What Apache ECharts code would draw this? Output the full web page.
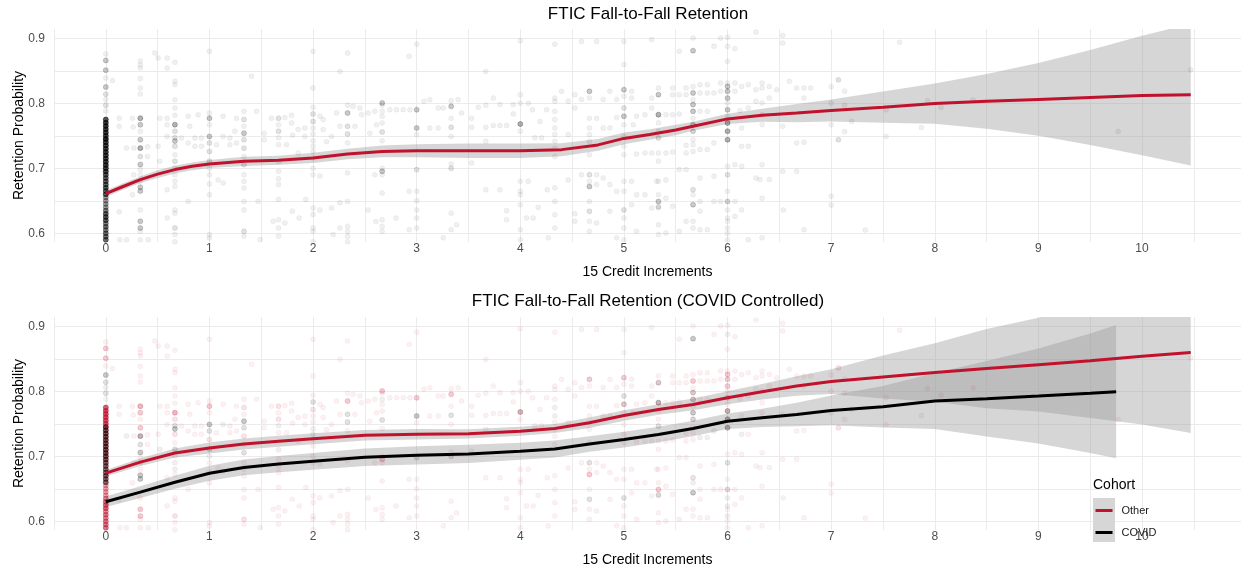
<!DOCTYPE html>
<html><head><meta charset="utf-8">
<script src="https://cdn.jsdelivr.net/npm/echarts@6/dist/echarts.min.js"></script>
<style>html,body{margin:0;padding:0;background:#fff}#c{width:1241px;height:569px}</style>
</head><body><div id="c"></div>
<script>
const FONT = '"Liberation Sans", Arial, Helvetica, sans-serif';
const RED = '#C0122D';
const BAND = 'rgba(153,153,153,0.4)';

const titleTop = 'FTIC Fall-to-Fall Retention';
const titleBottom = 'FTIC Fall-to-Fall Retention (COVID Controlled)';
const xAxisTitle = '15 Credit Increments';
const yAxisTitle = 'Retention Probability';
const xTickLabels = [0, 1, 2, 3, 4, 5, 6, 7, 8, 9, 10];
const yTickLabels = [0.6, 0.7, 0.8, 0.9];
const cohorts = ['Other', 'COVID'];

// Top panel smooth fit (all students)
const topFitX = [0,0.167,0.333,0.5,0.667,0.833,1,1.333,1.667,2,2.333,2.667,3,3.5,4,4.4,4.75,5,5.25,5.5,5.667,6,6.333,6.667,7,7.5,8,8.5,9,9.5,10,10.47];
const topFitY = [0.661,0.672,0.6825,0.691,0.698,0.703,0.7066,0.7107,0.7123,0.716,0.722,0.726,0.727,0.727,0.727,0.7287,0.736,0.746,0.752,0.759,0.7646,0.776,0.7815,0.785,0.789,0.794,0.7995,0.803,0.806,0.809,0.812,0.8133];
const topLower = [0.656,0.667,0.6775,0.685,0.692,0.697,0.7006,0.7037,0.7053,0.708,0.714,0.717,0.717,0.716,0.716,0.7187,0.727,0.737,0.744,0.751,0.7576,0.768,0.7715,0.771,0.772,0.770,0.7685,0.761,0.750,0.736,0.720,0.7043];
const topUpper = [0.666,0.677,0.6875,0.697,0.704,0.709,0.7126,0.7177,0.7193,0.724,0.730,0.735,0.737,0.738,0.738,0.7387,0.745,0.755,0.760,0.767,0.7716,0.784,0.7915,0.799,0.806,0.818,0.8305,0.845,0.862,0.882,0.904,0.9223];

// Bottom panel fits
const otherFitX = [0,0.333,0.667,1,1.333,1.667,2,2.5,3,3.5,4,4.333,4.667,5,5.333,5.667,6,6.333,6.667,7,7.5,8,8.5,9,9.5,10,10.47];
const otherFitY = [0.674,0.691,0.705,0.7128,0.719,0.7231,0.727,0.7324,0.734,0.7345,0.7386,0.7427,0.7515,0.7628,0.772,0.7798,0.790,0.7994,0.8082,0.815,0.822,0.829,0.835,0.841,0.847,0.854,0.8597];
const otherLower = [0.669,0.685,0.698,0.7043,0.7105,0.7146,0.7185,0.7244,0.726,0.7275,0.7316,0.7357,0.7435,0.7548,0.764,0.7708,0.780,0.7874,0.7932,0.796,0.789,0.784,0.774,0.769,0.759,0.749,0.7357];
const otherUpper = [0.679,0.697,0.712,0.7213,0.7275,0.7316,0.7355,0.7404,0.742,0.7415,0.7456,0.7497,0.7595,0.7708,0.780,0.7888,0.800,0.8114,0.8232,0.834,0.855,0.874,0.896,0.913,0.935,0.959,0.9837];

const covidFitX = [0,0.333,0.667,1,1.333,1.667,2,2.5,3,3.5,4,4.333,4.667,5,5.333,5.667,6,6.333,6.667,7,7.5,8,8.5,9,9.5,9.75];
const covidFitY = [0.630,0.6448,0.660,0.674,0.6829,0.688,0.6922,0.6984,0.7015,0.7036,0.7077,0.7113,0.719,0.7257,0.7335,0.7427,0.754,0.7592,0.7644,0.7706,0.7762,0.785,0.7886,0.7927,0.7969,0.7994];
const covidLower = [0.622,0.6358,0.650,0.6625,0.6709,0.6755,0.6792,0.6849,0.6875,0.6896,0.6947,0.6983,0.707,0.7137,0.7215,0.7307,0.742,0.7452,0.7464,0.7476,0.7442,0.742,0.7306,0.7197,0.7049,0.6969];
const covidUpper = [0.638,0.6538,0.670,0.6855,0.6949,0.7005,0.7052,0.7119,0.7155,0.7176,0.7207,0.7243,0.731,0.7377,0.7455,0.7547,0.766,0.7732,0.7824,0.7936,0.8082,0.828,0.8466,0.8657,0.8889,0.9019];

// Zero-credit column (x = 0): retention values and overlap counts
const zeroOtherY = [0.590,0.595,0.600,0.605,0.610,0.615,0.620,0.625,0.630,0.635,0.640,0.645,0.650,0.655,0.660,0.665,0.670,0.675,0.680,0.685,0.690,0.695,0.700,0.705,0.710,0.715,0.720,0.725,0.730,0.735,0.740,0.745,0.750,0.755,0.760,0.765,0.770,0.775];
const zeroOtherN = [14,12,12,10,12,10,16,16,15,10,7,7,7,7,7,6,6,6,6,6,6,11,11,11,11,11,11,11,11,11,11,18,22,22,22,22,22,18];
const zeroCovidY = [0.660,0.665,0.670,0.675,0.680,0.685,0.690,0.695,0.700,0.705,0.710,0.715,0.720,0.725,0.730,0.735,0.740,0.745];
const zeroCovidN = [8,8,9,8,8,8,9,8,9,9,9,9,9,9,9,9,9,8];

// Other points [x, y, overlapCount]
const ptsOther = [
[0,0.876],[0,0.866,4],[0,0.851,4],[0,0.839],[0,0.788],
[0.333,0.865],[0.333,0.859],[0.333,0.8543],[0.333,0.838],[0.333,0.8236],[0.333,0.8143],[0.333,0.777,6],[0.333,0.767,4],[0.333,0.757],[0.333,0.744,4],[0.333,0.7312,2],[0.333,0.698],[0.333,0.68],[0.333,0.636],[0.333,0.6184,4],[0.333,0.608,4],[0.333,0.603],[0.333,0.59],
[0.667,0.863],[0.667,0.8338],[0.667,0.8287],[0.667,0.8056],[0.667,0.7928],[0.667,0.7815],[0.667,0.7671,6],[0.667,0.757,2],[0.667,0.7338,2],[0.667,0.721],[0.667,0.7005],[0.667,0.672],[0.667,0.636],[0.667,0.631],[0.667,0.608,2],[0.667,0.598],[0.667,0.587],
[1,0.88],[1,0.785],[1,0.777,4],[1,0.767],[1,0.726,2],[1,0.69],[1,0.676],[1,0.6594],[1,0.598],[1,0.5928],
[1.333,0.7876],[1.333,0.775,2],[1.333,0.7646],[1.333,0.731,2],[1.333,0.718],[1.333,0.69],[1.333,0.68],[1.333,0.6697],[1.333,0.649],[1.333,0.636],[1.333,0.603,2],[1.333,0.5954],
[1.667,0.777,2],[1.667,0.767],[1.667,0.757,2],[1.667,0.7364],[1.667,0.6953],[1.667,0.684],[1.667,0.675],[1.667,0.652],[1.667,0.621],[1.667,0.608],[1.667,0.5954],
[2,0.88],[2,0.8235],[2,0.794],[2,0.772,2],[2,0.762],[2,0.7528],[2,0.726],[2,0.716],[2,0.7],[2,0.69],[2,0.639],[2,0.629],[2,0.608],[2,0.603],[2,0.587],
[2.333,0.8774],[2.333,0.797],[2.333,0.785,4],[2.333,0.739],[2.333,0.693],[2.333,0.649],[2.333,0.6107],[2.333,0.603],[2.333,0.5954],[2.333,0.587],
[2.667,0.8005,4],[2.667,0.797],[2.667,0.78],[2.667,0.7697],[2.667,0.7425],[2.667,0.7],[2.667,0.6953,4],[2.667,0.69],[2.667,0.662],[2.667,0.621],[2.667,0.6107],[2.667,0.603],
[3,0.891],[3,0.79,4],[3,0.752],[3,0.6646],[3,0.65],[3,0.636],[3,0.6236],[3,0.608],
[3.333,0.804],[3.333,0.7953,4],[3.333,0.777],[3.333,0.749],[3.333,0.7066],[3.333,0.631],[3.333,0.6056],
[3.667,0.849],[3.667,0.797],[3.667,0.763],[3.667,0.7415],[3.667,0.667],
[4,0.8964],[4,0.8133],[4,0.8],[4,0.768,4],[4,0.757],[4,0.68],[4,0.6646],[4,0.6594],[4,0.644],[4,0.6056],[4,0.59],
[4.333,0.891],[4.333,0.808],[4.333,0.803],[4.333,0.7876],[4.333,0.752],[4.333,0.7415],[4.333,0.731],[4.333,0.718],[4.333,0.67],[4.333,0.649],[4.333,0.6287],[4.333,0.608],
[4.667,0.8184,4],[4.667,0.808],[4.667,0.777],[4.667,0.762],[4.667,0.752],[4.667,0.7415],[4.667,0.721],[4.667,0.68],[4.667,0.672,4],[4.667,0.649],[4.667,0.6184],[4.667,0.603],
[5,0.895],[5,0.8595],[5,0.821,4],[5,0.811],[5,0.78,2],[5,0.767],[5,0.749],[5,0.7338],[5,0.721],[5,0.68],[5,0.6646],[5,0.6236],[5,0.608],[5,0.59],
[5.333,0.8236],[5.333,0.8133,2],[5.333,0.7825,2],[5.333,0.77],[5.333,0.757],[5.333,0.7236],[5.333,0.711],[5.333,0.68],[5.333,0.6594],[5.333,0.649,4],[5.333,0.639],[5.333,0.613],[5.333,0.598],
[5.667,0.9005],[5.667,0.826],[5.667,0.8159,4],[5.667,0.8056],[5.667,0.798,2],[5.667,0.7876,2],[5.667,0.777],[5.667,0.757],[5.667,0.7441],[5.667,0.7364],[5.667,0.726],[5.667,0.667],[5.667,0.6184],[5.667,0.608],
[6,0.9015],[6,0.8646],[6,0.8312],[6,0.826,4],[6,0.8184,4],[6,0.808,4],[6,0.8005],[6,0.79,4],[6,0.78],[6,0.7697,2],[6,0.757,2],[6,0.744,2],[6,0.703],[6,0.6646],[6,0.649,2],[6,0.6184],[6,0.6],[6,0.59],
[6.333,0.8312],[6.333,0.8236],[6.333,0.8005],[6.333,0.7825],[6.333,0.767],[6.333,0.7056],[6.333,0.654],[6.333,0.593],
[6.667,0.8236],[6.667,0.7389],[6.667,0.6953],
[7,0.8256],[7,0.8003],[7,0.7669],[7,0.6437],[7,0.657],
[0.064,0.835],[0.129,0.777],[0.129,0.7646],[0.129,0.633],[0.257,0.777],[0.264,0.7635],[0.27,0.69],[0.257,0.6594],[0.27,0.7312],[0.402,0.733],[0.402,0.718],[0.473,0.8774],[0.505,0.8697],[0.592,0.8697],[0.592,0.8543],[0.505,0.7338],[0.521,0.777],[0.592,0.777],[0.592,0.767],[0.592,0.749],[0.592,0.667],[0.592,0.6236],[0.73,0.7466],[0.795,0.78],[0.795,0.739],[0.795,0.649],[0.81,0.7646],[0.859,0.7466],[0.859,0.7338],[0.891,0.7825],[0.923,0.7466],[0.923,0.7338],[1.068,0.7364],[1.084,0.682],[1.132,0.78],[1.132,0.6774],[1.197,0.7466],[1.197,0.7364],[1.245,0.757],[1.261,0.777],[1.261,0.739],[1.406,0.8415],[1.454,0.7876],[1.47,0.649],[1.528,0.754],[1.528,0.744],[1.599,0.777],[1.615,0.6184],[1.49,0.5903],[0.135,0.59],[0.2,0.59],[0.41,0.59],
[1.728,0.778],[1.792,0.7815],[1.792,0.7697],[1.744,0.7364],[1.802,0.751],[1.856,0.7595],[1.921,0.762],[1.921,0.749],[1.856,0.7236],[2.066,0.78],[2.098,0.775],[2.098,0.7595],[2.066,0.688],[2.13,0.741],[2.178,0.749],[2.226,0.785],[2.259,0.7646],[2.259,0.849],[2.387,0.7953],[2.404,0.7646],[2.452,0.7928],[2.468,0.7825],[2.532,0.785],[2.548,0.754],[2.596,0.7876],[2.613,0.767],[2.741,0.7902],[2.806,0.7902],[2.87,0.7902],[2.935,0.7902],[2.928,0.8723],[3.07,0.803],[3.127,0.8056],[3.127,0.762],[3.208,0.7928],[3.256,0.7928],[3.208,0.762],[3.4,0.8056],[3.433,0.785],[1.93,0.652],[1.8,0.634],[1.866,0.6236],[1.728,0.616],[2.178,0.639],[2.259,0.647],[2.066,0.636],[2.194,0.598],[2.259,0.608],[2.532,0.636],[2.606,0.618],[2.8,0.6236],[2.928,0.6646],[2.928,0.6056],[3.256,0.593],[3.385,0.613],[2.596,0.69],
[3.594,0.794],[3.739,0.808],[3.803,0.798],[3.53,0.777],[3.53,0.763],[3.739,0.766],[3.803,0.766],[3.868,0.766],[3.932,0.798],[3.932,0.7836],[4.077,0.8],[4.118,0.79],[4.19,0.772],[4.254,0.79],[4.398,0.8184],[4.462,0.803],[4.527,0.8133],[4.527,0.7928],[4.591,0.806],[4.736,0.895],[4.591,0.895],[4.8,0.806],[4.865,0.8184],[4.93,0.806],[4.93,0.778],[5.074,0.8184],[5.074,0.808],[5.122,0.78],[5.203,0.7825],[5.268,0.808],[5.268,0.7928],[4.14,0.747],[4.205,0.747],[4.462,0.752],[4.736,0.777],[4.8,0.762],[4.865,0.762],[5.122,0.722],[5.203,0.7236],[5.268,0.7236],[5.09,0.767],[3.803,0.667],[4.077,0.68],[4.173,0.64],[4.26,0.667],[4.462,0.682],[4.527,0.63],[4.591,0.69],[4.736,0.69],[4.736,0.675],[4.8,0.685],[4.865,0.675],[4.865,0.6338],[4.93,0.6646],[5.074,0.68],[5.074,0.644],[5.122,0.6594],[5.203,0.6594],[5.268,0.639],[3.868,0.621],[3.868,0.6348],[4.06,0.6236],[4.124,0.6236],[4.27,0.593],[4.527,0.6184],[4.736,0.616],[4.93,0.593],[5.122,0.603],[3.53,0.708],
[5.267,0.898],[5.534,0.88],[5.869,0.8876],[5.933,0.9005],[6.071,0.8841],[6.274,0.9097],[6.532,0.9046],[6.532,0.8927],[5.47,0.8236],[5.47,0.8133],[5.534,0.8133],[5.6,0.8236],[5.6,0.8133],[5.734,0.8287],[5.734,0.8159],[5.805,0.8287],[5.805,0.8159],[5.869,0.8159],[5.933,0.8312],[5.933,0.8184],[6.071,0.8312],[6.071,0.8184],[6.136,0.826],[6.2,0.8287],[6.274,0.821],[6.403,0.826],[6.474,0.821],[6.596,0.8338],[6.737,0.8236],[6.802,0.8236],[6.737,0.808],[7.069,0.8364],[5.405,0.7825],[5.534,0.7836],[5.47,0.7825],[5.734,0.7876],[5.805,0.7876],[6.12,0.7887],[6.2,0.7928],[6.274,0.803],[6.403,0.808],[6.532,0.7646],[6.737,0.74],[7.069,0.744],[5.405,0.7236],[5.47,0.7251],[5.6,0.7236],[5.6,0.7354],[6.2,0.7338],[6.136,0.762],[5.315,0.68],[5.405,0.682],[5.534,0.698],[5.6,0.698],[5.734,0.685],[5.869,0.6877],[6.071,0.7056],[6.136,0.703],[6.274,0.685],[6.313,0.6826],[6.403,0.6826],[6.532,0.6953],[5.405,0.654],[5.47,0.6415],[5.734,0.649],[5.734,0.634],[5.869,0.649],[5.933,0.649],[6.071,0.649],[6.136,0.636],[6.071,0.626],[6.538,0.636],[5.534,0.603],[5.6,0.6184],[5.734,0.6056],[5.805,0.6056],[6.2,0.59],[6.737,0.6056],[5.405,0.6005],
[7.13,0.8187],[7.07,0.8358],[7.13,0.797],[7.197,0.772],[7.13,0.7566],[7.07,0.7438],[7.53,0.7489],[7.53,0.7899],[7.87,0.7628],[7.93,0.8038],[8.06,0.794],[8.37,0.805],[9.77,0.7566],[10.47,0.8514],[7.33,0.605],[7.66,0.8938]
];

// COVID points [x, y, overlapCount]
const ptsCovid = [
[0,0.797,2],[0,0.806],[0,0.814,2],[0,0.825,4],
[0.333,0.665,4],[0.333,0.671,4],[0.333,0.69],[0.333,0.706,4],[0.333,0.718,2],[0.333,0.731,4],
[0.667,0.742,4],[0.667,0.747,2],[0.667,0.711,2],[0.667,0.69],[0.667,0.68],
[1,0.739,2],[1,0.749,4],[1,0.7],[1,0.711,2],
[1.333,0.744,2],[1.333,0.754,4],[1.333,0.7056,2],
[1.667,0.747],[1.667,0.71],
[2,0.7425],[2,0.734],[2,0.7836,2],
[2.333,0.7646,2],[2.333,0.7528,2],
[2.667,0.756,2],[2.667,0.7876],
[3,0.762,4],[3,0.698,2],
[3.333,0.763,2],[3.333,0.7,2],
[4,0.768,2],
[4.333,0.775],[4.333,0.762],
[4.667,0.69,2],[4.667,0.6338,2],
[5,0.7928,2],[5,0.78,2],[5,0.636,2],
[5.333,0.7825,4],[5.333,0.7466,2],[5.333,0.641,2],[5.333,0.8133,2],
[5.667,0.881,4],[5.667,0.798,2],[5.667,0.7876,2],[5.667,0.767,4],[5.667,0.757,2],[5.667,0.667],[5.667,0.6594],[5.667,0.644,4],
[6,0.8876],[6,0.7697,4],[6,0.757,4],[6,0.744,4],[6,0.69,2],[6,0.649],[6,0.636],[6,0.6236],[6,0.608],
[0.2,0.7312],[1.132,0.749],[5.734,0.729],[5.805,0.729],[5.869,0.7389],[0.521,0.711],[6.136,0.7338]
];

// ---- build ----
const allOther = ptsOther.concat(zeroOtherY.map((y, i) => [0, y, zeroOtherN[i]]));
const allCovid = ptsCovid.concat(zeroCovidY.map((y, i) => [0, y, zeroCovidN[i]]));
const ALPHA = 0.058;
function pointItems(pts) {
  return pts.map(p => ({ value: [p[0], p[1]], itemStyle: { opacity: Math.min(0.95, 1 - Math.pow(1 - ALPHA, p[2] || 1)) } }));
}
function pairs(xs, ys) { return xs.map((x, i) => [x, ys[i]]); }

function scatterSeries(pts, color, gi) {
  return { type: 'scatter', xAxisIndex: gi, yAxisIndex: gi, symbol: 'circle', symbolSize: 5,
    silent: true, data: pointItems(pts),
    itemStyle: { color: color, borderColor: color, borderWidth: 0.8 } };
}
function bandSeries(xs, lo, hi, gi) {
  return { type: 'custom', xAxisIndex: gi, yAxisIndex: gi, silent: true, clip: true,
    data: xs.map((x, i) => [x, lo[i], hi[i]]),
    encode: { x: 0, y: [1, 2] },
    renderItem: function (params, api) {
      if (params.dataIndex !== 0) return null;
      const top = xs.map((x, i) => api.coord([x, hi[i]]));
      const bot = xs.map((x, i) => api.coord([x, lo[i]])).reverse();
      const cs = params.coordSys;
      return { type: 'polygon', shape: { points: top.concat(bot) }, style: { fill: BAND },
        clipPath: { type: 'rect', shape: { x: cs.x, y: cs.y, width: cs.width, height: cs.height } } };
    } };
}
function fitSeries(name, xs, ys, color, gi) {
  return { name: name, type: 'line', xAxisIndex: gi, yAxisIndex: gi, symbol: 'none', silent: true,
    smooth: false, data: pairs(xs, ys),
    lineStyle: { color: color, width: 3 }, itemStyle: { color: color } };
}

const gridTops = [29, 317];
function xAxisCfg(gi) {
  return { type: 'value', gridIndex: gi, min: -0.5, max: 10.955, interval: 0.5,
    axisLine: { show: false }, axisTick: { show: false },
    splitLine: { show: true, showMaxLine: false, lineStyle: { color: '#ebebeb', width: 1 } },
    axisLabel: { margin: 1, fontSize: 12, color: '#4d4d4d', fontFamily: FONT,
      formatter: v => xTickLabels.some(t => Math.abs(t - v) < 1e-6) ? String(Math.round(v)) : '' },
    name: xAxisTitle, nameLocation: 'middle', nameGap: 23, nameMoveOverlap: false,
    nameTextStyle: { fontSize: 14, color: '#000', fontFamily: FONT } };
}
function yAxisCfg(gi) {
  return { type: 'value', gridIndex: gi, min: 0.5866, max: 0.9143, splitNumber: 7,
    minInterval: 0.05, maxInterval: 0.05,
    axisLine: { show: false }, axisTick: { show: false },
    splitLine: { show: true, showMinLine: false, showMaxLine: false, lineStyle: { color: '#ebebeb', width: 1 } },
    axisLabel: { margin: 9, fontSize: 12, color: '#4d4d4d', fontFamily: FONT, showMinLabel: false, showMaxLabel: false,
      formatter: v => yTickLabels.some(t => Math.abs(t - v) < 1e-6) ? v.toFixed(1) : '' },
    name: yAxisTitle, nameLocation: 'middle', nameGap: 28, nameMoveOverlap: false,
    nameTextStyle: { fontSize: 14, color: '#000', fontFamily: FONT } };
}

const series = [];
series.push(scatterSeries(allOther.concat(allCovid), '#000', 0));
series.push(bandSeries(topFitX, topLower, topUpper, 0));
series.push(fitSeries('All', topFitX, topFitY, RED, 0));

series.push(scatterSeries(allOther, RED, 1));
series.push(scatterSeries(allCovid, '#000', 1));
series.push(bandSeries(otherFitX, otherLower, otherUpper, 1));
series.push(fitSeries(cohorts[0], otherFitX, otherFitY, RED, 1));
series.push(bandSeries(covidFitX, covidLower, covidUpper, 1));
series.push(fitSeries(cohorts[1], covidFitX, covidFitY, '#000', 1));

const chart = echarts.init(document.getElementById('c'), null, { renderer: 'canvas' });
chart.setOption({
  animation: false,
  backgroundColor: '#fff',
  textStyle: { fontFamily: FONT },
  grid: gridTops.map(t => ({ left: 54, top: t, width: 1187, height: 213, containLabel: false, outerBoundsMode: 'none' })),
  xAxis: [xAxisCfg(0), xAxisCfg(1)],
  yAxis: [yAxisCfg(0), yAxisCfg(1)],
  legend: {
    data: cohorts, orient: 'vertical', left: 1095.5, top: 505, padding: 0,
    itemWidth: 17, itemHeight: 3, itemGap: 11, icon: 'rect', selectedMode: false, z: 10,
    textStyle: { fontSize: 11, color: '#1a1a1a', fontFamily: FONT, padding: [0, 0, 0, 4] }
  },
  graphic: [
    { type: 'rect', left: 1093, top: 498, shape: { width: 22, height: 44 }, style: { fill: '#d6d6d6' }, z: 9, silent: true },
    { type: 'text', x: 648, y: 14, z: 100, style: { text: titleTop, fill: '#000', font: '17px ' + FONT, align: 'center', verticalAlign: 'middle' }, silent: true },
    { type: 'text', x: 648, y: 301, z: 100, style: { text: titleBottom, fill: '#000', font: '17px ' + FONT, align: 'center', verticalAlign: 'middle' }, silent: true },
    { type: 'text', x: 1093, y: 485, z: 100, style: { text: 'Cohort', fill: '#000', font: '14px ' + FONT, align: 'left', verticalAlign: 'middle' }, silent: true }
  ],
  series: series
});
</script>
</body></html>
